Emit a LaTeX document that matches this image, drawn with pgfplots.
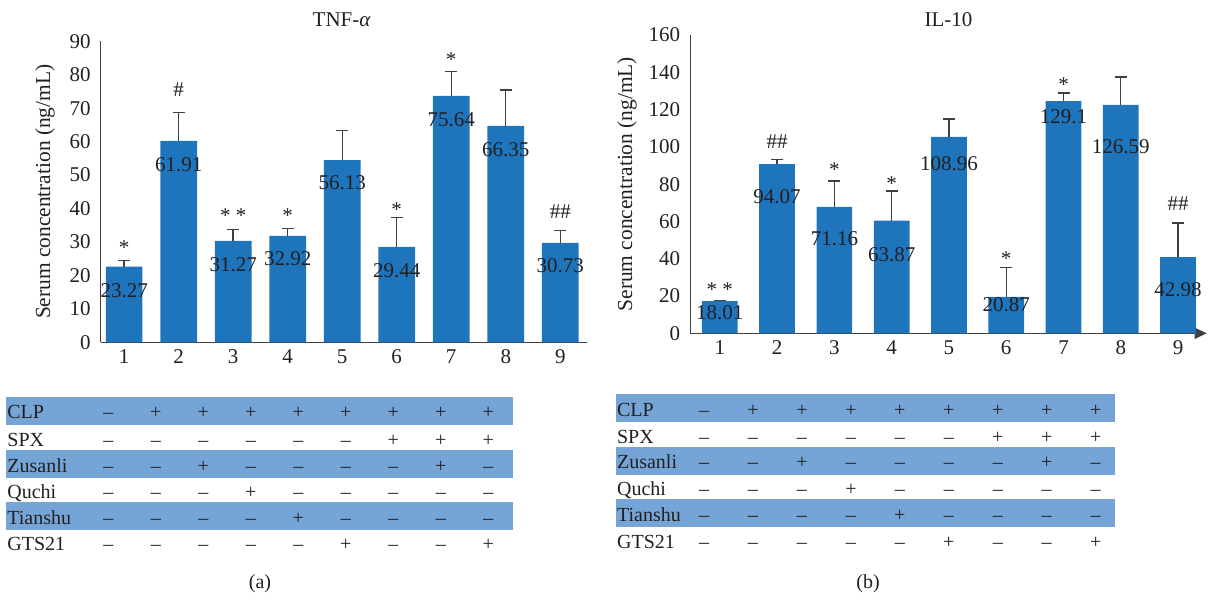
\documentclass[border=0pt]{standalone}
\usepackage{fontspec}
\setmainfont{Liberation Serif}
\usepackage{pgfplots}
\usepackage{pgfplotstable}
\pgfplotsset{compat=1.18}
\usetikzlibrary{arrows.meta}
\definecolor{barblue}{HTML}{1F75BC}
\definecolor{bandblue}{HTML}{75A5D6}
\definecolor{txt}{HTML}{231F20}
\definecolor{axisgray}{HTML}{404040}

% x = group, y = bar height, e = error (plus), lab = printed value, ly = label position
\pgfplotstableread{
x y e lab ly
1 22.6 1.8 23.27 15.4
2 60.2 8.5 61.91 53.0
3 30.3 3.4 31.27 23.1
4 31.8 2.2 32.92 25.1
5 54.5 8.8 56.13 47.7
6 28.5 8.9 29.44 21.4
7 73.7 7.3 75.64 66.5
8 64.7 10.7 66.35 57.5
9 29.7 3.7 30.73 22.9
}\tnf

\pgfplotstableread{
x y e lab ly
1 17.3 0.3 18.01 11.3
2 90.8 2.3 94.07 73.3
3 67.8 13.9 71.16 51.0
4 60.4 15.9 63.87 42.0
5 105.3 9.7 108.96 91.2
6 19.6 15.6 20.87 15.6
7 124.6 4.3 129.1 116.2
8 122.5 15.0 126.59 100.1
9 40.9 18.3 42.98 23.2
}\ilten

\pgfplotsset{
  base/.style={
    scale only axis, clip=false,
    axis y line*=left,
    axis line style={axisgray, line width=0.7pt},
    major tick length=0pt, tick style={draw=none},
    xtick={1,...,9}, ymin=0,
    /pgf/number format/assume math mode=true,
    tick label style={font=\fontsize{10.5}{12}\selectfont, text=txt},
    yticklabel style={xshift=-1.5pt},
    every axis y label/.style={at={(axis description cs:#1,0.5)}, rotate=90, anchor=center, font=\fontsize{10.7}{12}\selectfont, text=txt},
  },
  barplot/.style={ybar, bar width=#1, fill=barblue, draw=none,
    error bars/.cd, y dir=plus, y explicit,
    error bar style={axisgray, line width=0.7pt},
    error mark=-,
    error mark options={axisgray, line width=0.7pt, mark size=3pt, rotate=90}},
  txtplot/.style={draw=none, mark=none, nodes near coords, point meta=explicit symbolic,
    nodes near coords align={anchor=center},
    nodes near coords style={font=\fontsize{10.5}{12}\selectfont, text=txt, inner sep=0pt, yshift=#1}},
}

\begin{document}
\begin{tikzpicture}[font=\fontsize{10.5}{12}\selectfont, text=txt]
\useasboundingbox (0,0) rectangle (604pt,-299.5pt);

% ---------- (a) TNF-alpha ----------
\begin{axis}[base=-0.1143,
  at={(50.35pt,-171.15pt)}, anchor=south west,
  width=243.15pt, height=150.5pt,
  axis x line*=bottom,
  xmin=0.57, xmax=9.49, ymax=90, ytick={0,10,...,90},
  ylabel={Serum concentration (ng/mL)}]
\addplot[barplot=18.35pt] table[x=x, y=y, y error=e] {\tnf};
\addplot[txtplot=0pt] table[x=x, y=ly, meta=lab] {\tnf};
\addplot[txtplot=-2pt] coordinates {(1,29.6) [*] (3,39.0) [* *] (4,39.0) [*] (6,40.8) [*] (7,85.7) [*]};
\addplot[txtplot=0pt] coordinates {(2,75.7) [\#] (9,39.0) [\#\#]};
\end{axis}
\node at (170.85pt,-10pt) {TNF-\textit{α}};

% ---------- (b) IL-10 ----------
\begin{axis}[base=-0.1226,
  at={(345.15pt,-166.65pt)}, anchor=south west,
  width=258.2pt, height=149.15pt,
  axis x line*=bottom,
  x axis line style={-{Triangle[length=6pt,width=5.5pt]}},
  xmin=0.485, xmax=9.5, ymax=160, ytick={0,20,...,160},
  ylabel={Serum concentration (ng/mL)}]
\addplot[barplot=17.85pt] table[x=x, y=y, y error=e] {\ilten};
\addplot[txtplot=0pt] table[x=x, y=ly, meta=lab] {\ilten};
\addplot[txtplot=-2pt] coordinates {(1,25.5) [* *] (3,89.9) [*] (4,82.2) [*] (6,42.4) [*] (7,135.4) [*]};
\addplot[txtplot=0pt] coordinates {(2,102.8) [\#\#] (9,69.4) [\#\#]};
\end{axis}
\node at (474.25pt,-10pt) {IL-10};

% ---------- treatment tables ----------
\begin{scope}[x=0.5pt, y=-0.5pt, every node/.style={font=\fontsize{10}{12}\selectfont, text=txt}]
  % left bands
  \fill[bandblue] (6,397.3) rectangle (513,424.7);
  \fill[bandblue] (6,450) rectangle (513,477.7);
  \fill[bandblue] (6,502.3) rectangle (513,529.7);
  % right bands
  \fill[bandblue] (615.7,394) rectangle (1115,421.7);
  \fill[bandblue] (615.7,446.7) rectangle (1115,474.7);
  \fill[bandblue] (615.7,499.3) rectangle (1115,526.7);
  \foreach \lab/\ya/\yb/\vals in {
      CLP/413.3/411.7/{–,+,+,+,+,+,+,+,+},
      SPX/441.7/438.3/{–,–,–,–,–,–,+,+,+},
      Zusanli/467.3/463.3/{–,–,+,–,–,–,–,+,–},
      Quchi/493.3/490/{–,–,–,+,–,–,–,–,–},
      Tianshu/519/516.7/{–,–,–,–,+,–,–,–,–},
      GTS21/545.7/543.3/{–,–,–,–,–,+,–,–,+}}{
    \node[anchor=west, inner sep=0pt, text height=7pt, text depth=2pt] at (7,\ya) {\lab};
    \node[anchor=west, inner sep=0pt, text height=7pt, text depth=2pt] at (616.7,\yb) {\lab};
    \foreach \v [count=\i] in \vals {
      \node[inner sep=0pt, text height=7pt, text depth=2pt] at ({108.3+47.5*(\i-1)},\ya) {\v};
      \node[inner sep=0pt, text height=7pt, text depth=2pt] at ({704+48.96*(\i-1)},\yb) {\v};
    }
  }
  \node at (260,584) {(a)};
  \node at (868,584) {(b)};
\end{scope}
\end{tikzpicture}
\end{document}
